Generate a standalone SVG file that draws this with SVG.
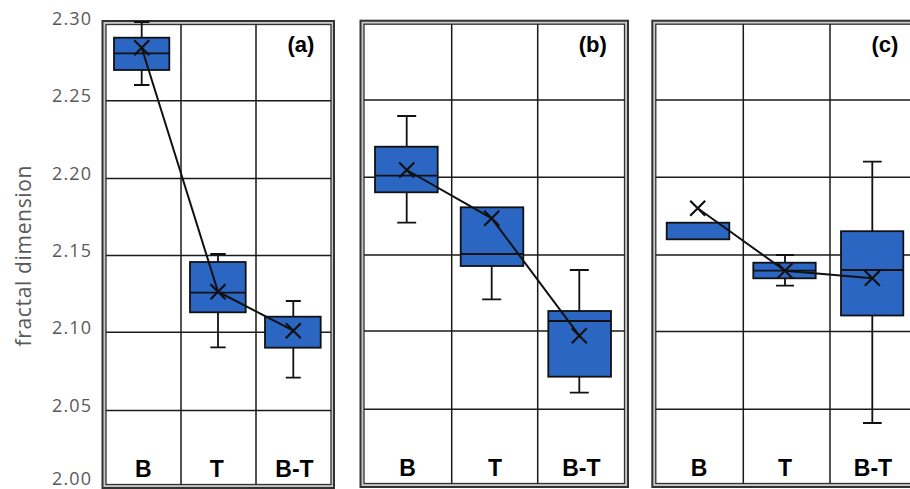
<svg xmlns="http://www.w3.org/2000/svg" width="910" height="489" viewBox="0 0 910 489">
<style>
.fo{fill:#c8c8c8;stroke:#333;stroke-width:2}
.fi{fill:#fff;stroke:#333;stroke-width:1.3}
.g{stroke:#1a1a1a;stroke-width:1.5;fill:none}
.box{fill:#2B66C2;stroke:#111;stroke-width:1.8}
.med{stroke:#111;stroke-width:1.8}
.wh{stroke:#111;stroke-width:1.8;fill:none}
.mx{stroke:#111;stroke-width:2.2;fill:none}
.ln{stroke:#111;stroke-width:2;fill:none}
.ax{font-family:"Open Sans","Liberation Sans",sans-serif;font-size:18px;fill:#595959}
.cat{font-family:"Liberation Sans",Arial,sans-serif;font-weight:bold;font-size:23px;fill:#000;text-anchor:middle}
.pl{font-family:"Liberation Sans",Arial,sans-serif;font-weight:bold;font-size:22px;fill:#000;text-anchor:middle}
</style>
<rect width="910" height="489" fill="#fff"/>

<g id="y-axis">
<text class="ax" x="91" y="25" text-anchor="end" textLength="39">2.30</text>
<text class="ax" x="91" y="102" text-anchor="end" textLength="39">2.25</text>
<text class="ax" x="91" y="179.5" text-anchor="end" textLength="39">2.20</text>
<text class="ax" x="91" y="257" text-anchor="end" textLength="39">2.15</text>
<text class="ax" x="91" y="334" text-anchor="end" textLength="39">2.10</text>
<text class="ax" x="91" y="411.5" text-anchor="end" textLength="39">2.05</text>
<text class="ax" x="91" y="485" text-anchor="end" textLength="39">2.00</text>
<text class="ax" style="font-size:21px" transform="translate(31,256) rotate(-90)" text-anchor="middle" textLength="181">fractal dimension</text>
</g>

<g id="panel-a">
<rect class="fo" x="102.5" y="21" width="231.5" height="467"/>
<rect class="fi" x="106" y="24.5" width="225" height="460"/>
<path class="g" d="M181,24.5V484.5M256,24.5V484.5M106,100.7H331M106,178.5H331M106,255.5H331M106,332.3H331M106,410.5H331"/>
<g id="a-B">
<path class="wh" d="M141.7,22V37.7M141.7,70V85M134,22H149.4M134,85H149.4"/>
<rect class="box" x="114" y="37.7" width="55.3" height="32.3"/>
<path class="med" d="M114,53.3H169.3"/>
</g>
<g id="a-T">
<path class="wh" d="M218,254V262M218,312.3V347.3M210.3,254H225.7M210.3,347.3H225.7"/>
<rect class="box" x="190" y="262" width="55.7" height="50.3"/>
<path class="med" d="M190,292.7H245.7"/>
</g>
<g id="a-BT">
<path class="wh" d="M293.3,301V316.7M293.3,347.7V377.7M285.8,301H300.8M285.8,377.7H300.8"/>
<rect class="box" x="265" y="316.7" width="55.7" height="31"/>
</g>
<text class="pl" x="301" y="51.5">(a)</text>
<text class="cat" x="143.3" y="477">B</text>
<text class="cat" x="216.8" y="477">T</text>
<text class="cat" x="294.5" y="477">B-T</text>
</g>

<g id="panel-b">
<rect class="fo" x="360.5" y="20.7" width="267.5" height="466.3"/>
<rect class="fi" x="364" y="24.2" width="260.5" height="459.3"/>
<path class="g" d="M451.7,24.2V483.5M537.7,24.2V483.5M364,100H624.5M364,177.3H624.5M364,255H624.5M364,331H624.5M364,409.3H624.5"/>
<g id="b-B">
<path class="wh" d="M406.7,116V146.7M406.7,192.3V222.7M397.2,116H416.2M397.2,222.7H416.2"/>
<rect class="box" x="375" y="146.7" width="62.7" height="45.6"/>
<path class="med" d="M375,175.7H437.7"/>
</g>
<g id="b-T">
<path class="wh" d="M491.7,266V299.3M482.2,299.3H501.2"/>
<rect class="box" x="460.7" y="207.3" width="62.6" height="58.7"/>
<path class="med" d="M460.7,254H523.3"/>
</g>
<g id="b-BT">
<path class="wh" d="M579.3,270V311M579.3,376.7V392.7M569.8,270H588.8M569.8,392.7H588.8"/>
<rect class="box" x="548.3" y="311" width="62.7" height="65.7"/>
<path class="med" d="M548.3,321H611"/>
</g>
<text class="pl" x="592.7" y="51.5">(b)</text>
<text class="cat" x="407.5" y="475.5">B</text>
<text class="cat" x="495" y="475.5">T</text>
<text class="cat" x="581.3" y="475.5">B-T</text>
</g>

<g id="panel-c">
<rect class="fo" x="652.3" y="20.7" width="280" height="466.3"/>
<rect class="fi" x="655.8" y="24.2" width="273" height="459.3"/>
<path class="g" d="M743.3,24.2V483.5M830,24.2V483.5M655.8,100H928M655.8,177.3H928M655.8,255H928M655.8,331.5H928M655.8,409.3H928"/>
<g id="c-B">
<rect class="box" x="666.7" y="222.7" width="62.6" height="16.6"/>
</g>
<g id="c-T">
<path class="wh" d="M785,255V262.7M785,278.3V285.7M776,255H794M776,285.7H794"/>
<rect class="box" x="753.3" y="262.7" width="62.4" height="15.6"/>
<path class="med" d="M753.3,270.7H815.7"/>
</g>
<g id="c-BT">
<path class="wh" d="M872.3,161.7V231.2M872.3,315.5V423M863,161.7H881.7M863,423H881.7"/>
<rect class="box" x="841" y="231.2" width="62.3" height="84.3"/>
<path class="med" d="M841,270H903.3"/>
</g>
<text class="pl" x="885" y="51.5">(c)</text>
<text class="cat" x="699" y="475.5">B</text>
<text class="cat" x="785" y="475.5">T</text>
<text class="cat" x="873" y="475.5">B-T</text>
</g>

<g id="connectors">
<path class="ln" d="M141.7,47.7L218,291.7L293.3,330.7"/>
<path class="ln" d="M406.7,170L491.7,218.3L579.3,335.7"/>
<path class="ln" d="M697.7,208.3L785,270.7L872.3,278.3"/>
<g class="mx">
<path d="M134.2,40.2L149.2,55.2M149.2,40.2L134.2,55.2"/>
<path d="M210.5,284.2L225.5,299.2M225.5,284.2L210.5,299.2"/>
<path d="M285.8,323.2L300.8,338.2M300.8,323.2L285.8,338.2"/>
<path d="M399.2,162.5L414.2,177.5M414.2,162.5L399.2,177.5"/>
<path d="M484.2,210.8L499.2,225.8M499.2,210.8L484.2,225.8"/>
<path d="M571.8,328.2L586.8,343.2M586.8,328.2L571.8,343.2"/>
<path d="M690.2,200.8L705.2,215.8M705.2,200.8L690.2,215.8"/>
<path d="M777.5,263.2L792.5,278.2M792.5,263.2L777.5,278.2"/>
<path d="M864.8,270.8L879.8,285.8M879.8,270.8L864.8,285.8"/>
</g>
</g>
</svg>
